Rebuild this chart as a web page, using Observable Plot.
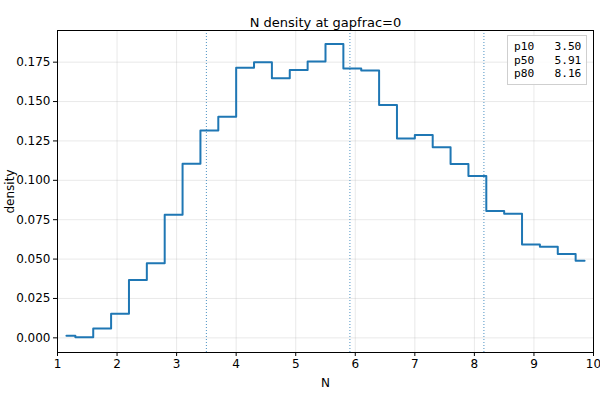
<!DOCTYPE html>
<html><head><meta charset="utf-8">
<script src="https://cdn.jsdelivr.net/npm/d3@7"></script>
<script src="https://cdn.jsdelivr.net/npm/@observablehq/plot@0.6"></script>
<style>
body{margin:0;background:#fff;font-family:"DejaVu Sans",sans-serif}
#wrap{position:relative;width:600px;height:400px}
#legend{position:absolute;left:507px;top:35px;width:80px;height:50px;border:1px solid #cfcfcf;background:rgba(255,255,255,0.85);box-sizing:border-box;padding:4px 0 0 6px;font-family:"DejaVu Sans Mono",monospace;font-size:11.2px;line-height:13.5px;white-space:pre;color:#000}
</style>
</head><body><div id="wrap"></div>
<script>
const title = "N density at gapfrac=0";
const binCenters = [1.15,1.45,1.75,2.05,2.35,2.65,2.95,3.25,3.55,3.85,4.15,4.45,4.75,5.05,5.35,5.65,5.95,6.25,6.55,6.85,7.15,7.45,7.75,8.05,8.35,8.65,8.95,9.25,9.55,9.85];
const density = [0.0013,0.0004,0.0059,0.0153,0.0367,0.0473,0.0781,0.1105,0.1317,0.1404,0.1714,0.1750,0.1648,0.1700,0.1754,0.1865,0.1710,0.1697,0.1478,0.1266,0.1287,0.1210,0.1103,0.1027,0.0806,0.0787,0.0592,0.0579,0.0533,0.0490];
const percentileLabels = ["p10","p50","p80"];
const percentileValues = [3.50, 5.91, 8.16];
const xTicks = [1,2,3,4,5,6,7,8,9,10];
const yTicks = [0,0.025,0.05,0.075,0.1,0.125,0.15,0.175];

const data = binCenters.map((x,i)=>({x, y: density[i]}));
const pct = percentileLabels.map((l,i)=>({label:l, value:percentileValues[i]}));

const chart = Plot.plot({
  width: 600, height: 400,
  marginLeft: 57, marginRight: 7, marginTop: 30, marginBottom: 48,
  style: {fontFamily: "DejaVu Sans, sans-serif", fontSize: "12px", color: "#000", background: "#fff"},
  x: {domain: [1, 10], ticks: xTicks, tickFormat: d3.format("d")},
  y: {domain: [-0.0093, 0.1951], ticks: yTicks, tickFormat: d3.format(".3f")},
  marks: [
    Plot.gridX(xTicks, {stroke: "#b0b0b0", strokeOpacity: 0.35, strokeWidth: 0.8}),
    Plot.gridY(yTicks, {stroke: "#b0b0b0", strokeOpacity: 0.35, strokeWidth: 0.8}),
    Plot.ruleX(pct, {x: "value", stroke: "#1f77b4", strokeWidth: 1, strokeDasharray: "1,2", strokeOpacity: 0.8}),
    Plot.line(data, {x: "x", y: "y", curve: "step", stroke: "#1f77b4", strokeWidth: 2}),
    Plot.axisX(xTicks, {tickSize: 4, tickPadding: 3, fontSize: 12, label: "N", labelAnchor: "center", labelArrow: "none", labelOffset: 34}),
    Plot.axisY(yTicks, {tickSize: 4, tickPadding: 3, fontSize: 12, label: "density", labelAnchor: "center", labelArrow: "none", labelOffset: 52, tickFormat: d3.format(".3f")}),
    Plot.frame({stroke: "#000", strokeWidth: 1}),
    Plot.text([title], {frameAnchor: "top", dy: -13, fontSize: 13, text: d => d})
  ]
});
document.getElementById("wrap").appendChild(chart);
const lg = document.createElement("div");
lg.id = "legend";
lg.textContent = pct.map(p => p.label.padEnd(4) + p.value.toFixed(2).padStart(6)).join("\n");
document.getElementById("wrap").appendChild(lg);
</script>
</body></html>
